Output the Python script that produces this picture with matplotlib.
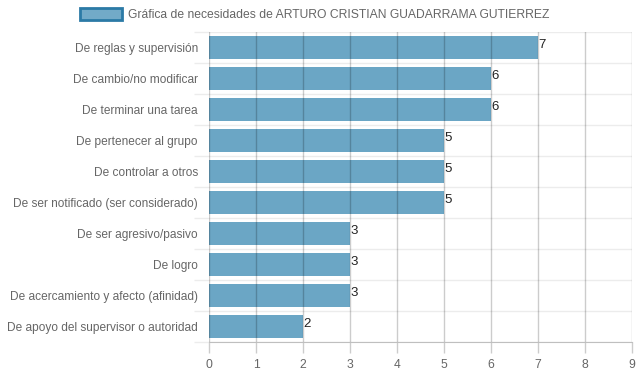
import matplotlib
matplotlib.use("Agg")
import matplotlib.pyplot as plt
from matplotlib.patches import Patch

plt.rcParams['font.family'] = ['Liberation Sans', 'DejaVu Sans']

categories = [
    "De reglas y supervisión",
    "De cambio/no modificar",
    "De terminar una tarea",
    "De pertenecer al grupo",
    "De controlar a otros",
    "De ser notificado (ser considerado)",
    "De ser agresivo/pasivo",
    "De logro",
    "De acercamiento y afecto (afinidad)",
    "De apoyo del supervisor o autoridad",
]
values = [7, 6, 6, 5, 5, 5, 3, 3, 3, 2]
xticks = list(range(0, 10))
series_name = "Gráfica de necesidades de ARTURO CRISTIAN GUADARRAMA GUTIERREZ"

W, H = 639, 372
fig = plt.figure(figsize=(W / 100, H / 100), dpi=100)
L, R, T, B = 209, 632, 32, 342
ax = fig.add_axes([L / W, (H - B) / H, (R - L) / W, (B - T) / H])

bar_color = "#6ba6c5"
ypos = list(range(len(categories)))
ax.barh(ypos, values, height=0.71, color=bar_color, zorder=2)

ax.set_ylim(len(categories) - 0.5, -0.5)
ax.set_xlim(0, 9)
ax.set_xticks(xticks)
ax.set_yticks(ypos)
ax.set_yticklabels(categories, fontsize=8.6, color="#666666")
ax.set_xticklabels([str(t) for t in xticks], fontsize=8.7, color="#666666")

ax.set_yticks([i - 0.5 for i in range(len(categories) + 1)], minor=True)
ax.tick_params(axis='y', which='major', length=0, pad=8)
ax.tick_params(axis='y', which='minor', length=11, color="#ececec", width=1)
ax.tick_params(axis='x', which='major', length=8, color="#cccccc", width=1, pad=4)
for yb in [i - 0.5 for i in range(len(categories) + 1)]:
    ax.axhline(yb, color="#ececec", linewidth=1, zorder=1)
for x in xticks:
    ax.axvline(x, color=(0, 0, 0, 0.2), linewidth=1, zorder=3)

for s in ['top', 'right', 'left']:
    ax.spines[s].set_visible(False)
ax.spines['bottom'].set_color("#bfbfbf")
ax.spines['bottom'].set_zorder(4)

for i, v in enumerate(values):
    ax.annotate(str(v), xy=(v, i - 0.355), xytext=(0.5, -1.5), textcoords='offset points',
                ha='left', va='top', fontsize=9.5, color="#222222", zorder=4)

handle = Patch(facecolor="#72aac8", edgecolor="#2b7aa6", linewidth=2)
fig.legend([handle], [series_name], loc='upper center', bbox_to_anchor=(0.492, 1.0),
           frameon=False, fontsize=8.7, handlelength=3.5, handleheight=1.05,
           handletextpad=0.45, labelcolor="#666666", borderaxespad=0.3)

fig.savefig("out.png", dpi=100)
